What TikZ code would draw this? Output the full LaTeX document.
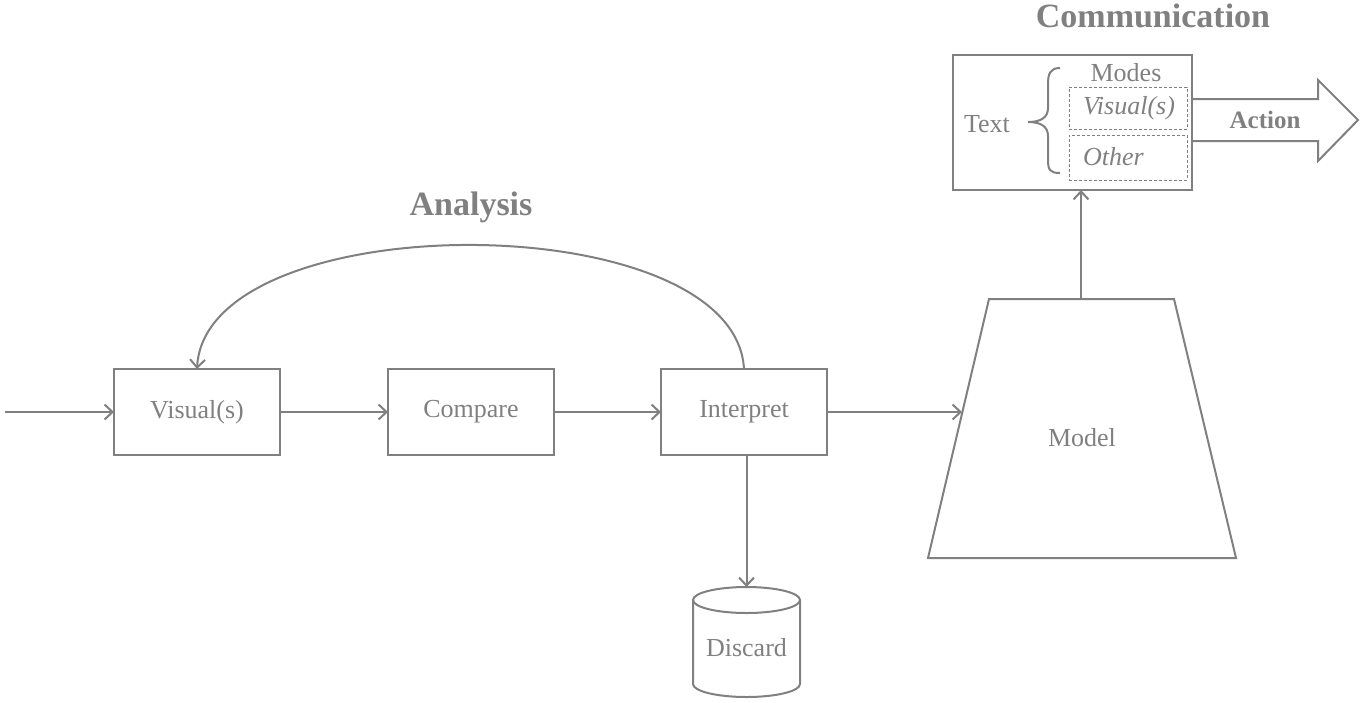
\documentclass[tikz,border=0pt]{standalone}
\usepackage{fontspec}
\setmainfont{Liberation Serif}
\usetikzlibrary{arrows.meta}
\definecolor{ln}{RGB}{128,128,128}
\definecolor{tx}{RGB}{128,128,128}
\tikzset{
  every node/.style={text=tx,inner sep=0pt,outer sep=0pt},
  box/.style={draw=ln,line width=2pt,minimum width=166pt,minimum height=86pt,font=\fontsize{26}{30}\selectfont},
  lbl/.style={font=\fontsize{26}{30}\selectfont},
  ttl/.style={font=\fontsize{34}{40}\selectfont\bfseries},
  conn/.style={draw=ln,line width=2pt,-{Straight Barb[length=8pt,width=15pt,line width=2pt]}},
  shp/.style={draw=ln,line width=2pt,line join=miter},
  dbox/.style={draw=ln,line width=1pt,dash pattern=on 3pt off 2pt},
}
\begin{document}
\begin{tikzpicture}[x=1pt,y=-1pt]
\useasboundingbox (0,0) rectangle (1367,702);
% Analysis
\node[ttl] (analysis) at (471,207) {Analysis};
\coordinate (start) at (5,412);
\node[box] (visual) at (197,412) {Visual(s)};
\node[box] (compare) at (471,412) {Compare};
\node[box] (interp) at (744,412) {Interpret};
\draw[conn] (start) -- (visual.west);
\draw[conn] (visual.east) -- (compare.west);
\draw[conn] (compare.east) -- (interp.west);
\draw[conn] (interp.north) .. controls (735,204) and (206,204) .. (visual.north);
% Discard cylinder
\draw[shp] (693,600) -- (693,684) arc[start angle=180,end angle=0,x radius=53.5,y radius=13] -- (800,600);
\draw[shp] (746.5,600) ellipse[x radius=53.5,y radius=13];
\coordinate (disctop) at (746.5,587);
\node[lbl] (discard) at (746.5,648) {Discard};
\draw[conn] (interp.south -| disctop) -- (disctop);
% Model trapezoid
\draw[shp] (989,299) -- (1174,299) -- (1236,558) -- (928,558) -- cycle;
\node[lbl] (model) at (1082,438) {Model};
\coordinate (modelin) at (962,412);
\coordinate (modeltop) at (1081,299);
\draw[conn] (interp.east) -- (modelin);
% Communication
\node[ttl] (commtitle) at (1153,16) {Communication};
\node[draw=ln,line width=2pt,minimum width=239pt,minimum height=135pt] (comm) at (1072.5,122.5) {};
\draw[conn] (modeltop) -- (modeltop |- comm.south);
\node[lbl] (text) at (987,124) {Text};
\draw[draw=ln,line width=2pt] (1060,68) .. controls (1050,68) and (1048,74) .. (1048,84) -- (1048,108)
  .. controls (1048,118) and (1040,122) .. (1028,122)
  .. controls (1040,122) and (1048,126) .. (1048,136) -- (1048,160)
  .. controls (1048,170) and (1050,173) .. (1060,173);
\node[lbl] (modes) at (1126,73) {Modes};
\node[dbox,minimum width=118pt,minimum height=42pt] (vbox) at (1128,108) {};
\node[dbox,minimum width=118pt,minimum height=45pt] (obox) at (1128,157.5) {};
\node[lbl,anchor=west] (vtext) at (1083,108) {\itshape Visual(s)};
\node[lbl,anchor=west] (otext) at (1083,157) {\itshape Other};
% Action arrow
\draw[shp] (comm.east |- 0,99) -- (1318,99) -- (1318,80) -- (1358,120) -- (1318,161) -- (1318,141) -- (comm.east |- 0,141);
\node[lbl,font=\fontsize{25}{30}\selectfont\bfseries] (action) at (1265,120) {Action};
\end{tikzpicture}
\end{document}
